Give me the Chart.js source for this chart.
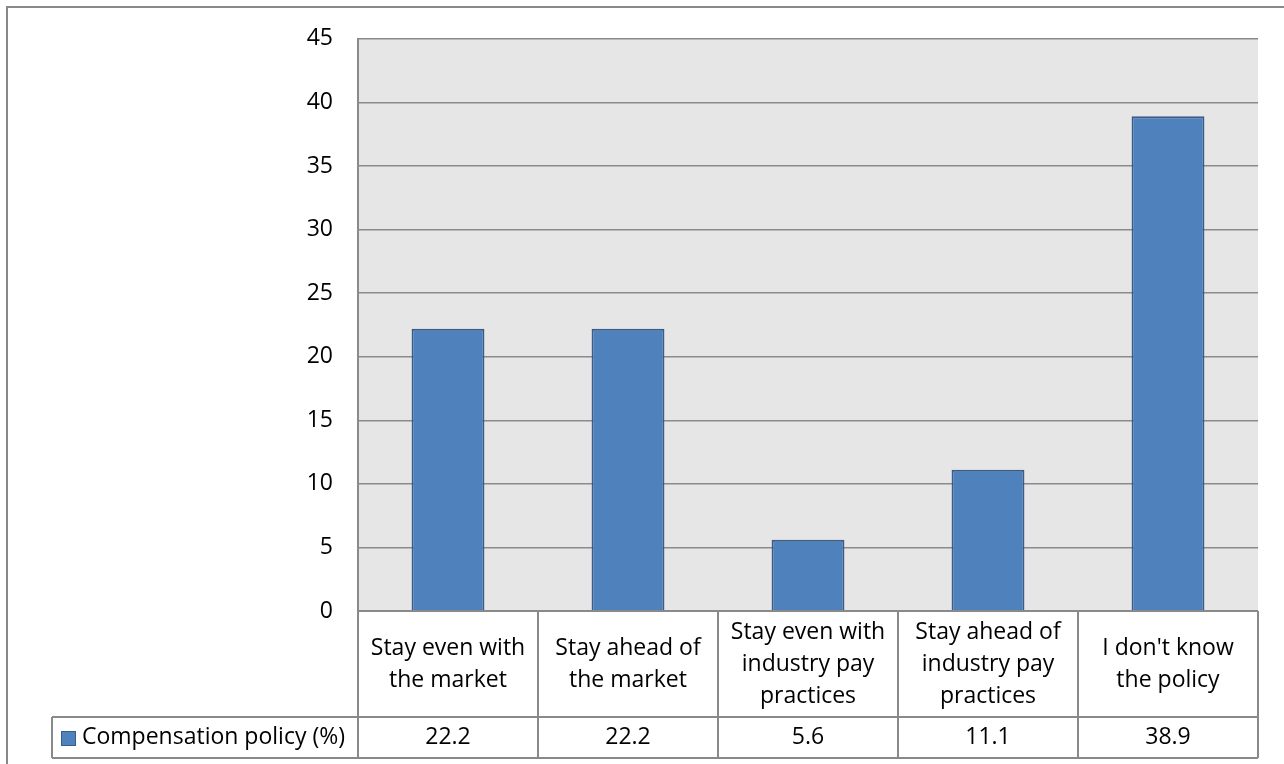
<!DOCTYPE html>
<html>
<head>
<meta charset="utf-8">
<script src="https://cdn.jsdelivr.net/npm/chart.js@4/dist/chart.umd.min.js"></script>
<style>
html,body{margin:0;padding:0;background:#fff;}
canvas{display:block;}
</style>
</head>
<body>
<canvas id="c" width="1284" height="764"></canvas>
<script>
const categories = [
  ["Stay even with", "the market"],
  ["Stay ahead of", "the market"],
  ["Stay even with", "industry pay", "practices"],
  ["Stay ahead of", "industry pay", "practices"],
  ["I don't know", "the policy"]
];
const seriesName = "Compensation policy (%)";
const values = [22.2, 22.2, 5.6, 11.1, 38.9];
const valueLabels = ["22.2", "22.2", "5.6", "11.1", "38.9"];
const yTicks = [0, 5, 10, 15, 20, 25, 30, 35, 40, 45];

const FONT = "'Open Sans', sans-serif";
const FS = 23;
const LINE = '#898989';

const tablePlugin = {
  id: 'tablePlugin',
  beforeDraw(chart) {
    const ctx = chart.ctx;
    const a = chart.chartArea;
    ctx.save();
    ctx.strokeStyle = LINE;
    ctx.lineWidth = 2;
    ctx.beginPath();
    ctx.moveTo(7, 764);
    ctx.lineTo(7, 7);
    ctx.lineTo(1284, 7);
    ctx.stroke();
    ctx.fillStyle = '#e6e6e6';
    ctx.fillRect(a.left, a.top, a.right - a.left, a.bottom - a.top);
    ctx.restore();
  },
  afterDraw(chart) {
    const ctx = chart.ctx;
    const a = chart.chartArea;
    const xs = chart.scales.x;
    const n = categories.length;
    const cw = (a.right - a.left) / n;
    const row1Top = a.bottom;
    const row1Bot = 717;
    const row2Bot = 758;
    const legendLeft = 52;
    ctx.save();
    ctx.strokeStyle = LINE;
    ctx.lineWidth = 2;
    ctx.beginPath();
    ctx.moveTo(a.left, row1Top); ctx.lineTo(a.right, row1Top);
    ctx.moveTo(legendLeft, row1Bot); ctx.lineTo(a.right, row1Bot);
    ctx.moveTo(legendLeft, row2Bot); ctx.lineTo(a.right, row2Bot);
    for (let i = 0; i <= n; i++) {
      const x = a.left + i * cw;
      ctx.moveTo(x, row1Top); ctx.lineTo(x, row2Bot);
    }
    ctx.moveTo(legendLeft, row1Bot); ctx.lineTo(legendLeft, row2Bot);
    ctx.stroke();

    ctx.fillStyle = '#000';
    ctx.font = FS + 'px ' + FONT;
    ctx.textAlign = 'center';
    ctx.textBaseline = 'middle';
    const lh = 32;
    for (let i = 0; i < n; i++) {
      const cx = xs.getPixelForValue(i);
      const lines = categories[i];
      const mid = (row1Top + row1Bot) / 2;
      const start = mid - (lines.length - 1) * lh / 2;
      lines.forEach((t, j) => ctx.fillText(t, cx, start + j * lh));
      ctx.fillText(valueLabels[i], cx, (row1Bot + row2Bot) / 2);
    }
    const ds = chart.data.datasets[0];
    ctx.fillStyle = ds.backgroundColor;
    ctx.fillRect(61, 731, 15, 15);
    ctx.strokeStyle = ds.borderColor;
    ctx.lineWidth = 1;
    ctx.strokeRect(61.5, 731.5, 14, 14);
    ctx.fillStyle = '#000';
    ctx.textAlign = 'left';
    ctx.fillText(ds.label, 82, (row1Bot + row2Bot) / 2);
    ctx.restore();
  }
};

new Chart(document.getElementById('c'), {
  type: 'bar',
  data: {
    labels: categories.map(c => c.join(' ')),
    datasets: [{
      label: seriesName,
      data: values,
      backgroundColor: '#4F81BD',
      borderColor: '#385D8A',
      borderWidth: 2,
      barPercentage: 0.405,
      categoryPercentage: 1.0
    }]
  },
  options: {
    responsive: false,
    animation: false,
    devicePixelRatio: 1,
    layout: { padding: { left: 0, top: 38, right: 26, bottom: 153 } },
    plugins: { legend: { display: false }, tooltip: { enabled: false } },
    scales: {
      x: { display: false },
      y: {
        min: 0, max: 45,
        afterFit(scale) { scale.width = 358; },
        afterBuildTicks(scale) { scale.ticks = yTicks.map(v => ({ value: v })); },
        ticks: { color: '#000', padding: 25, font: { family: FONT, size: FS } },
        grid: { color: '#8a8a8a', lineWidth: 1.5, drawTicks: false },
        border: { display: true, color: '#8a8a8a', width: 2 }
      }
    }
  },
  plugins: [tablePlugin]
});
</script>
</body>
</html>
